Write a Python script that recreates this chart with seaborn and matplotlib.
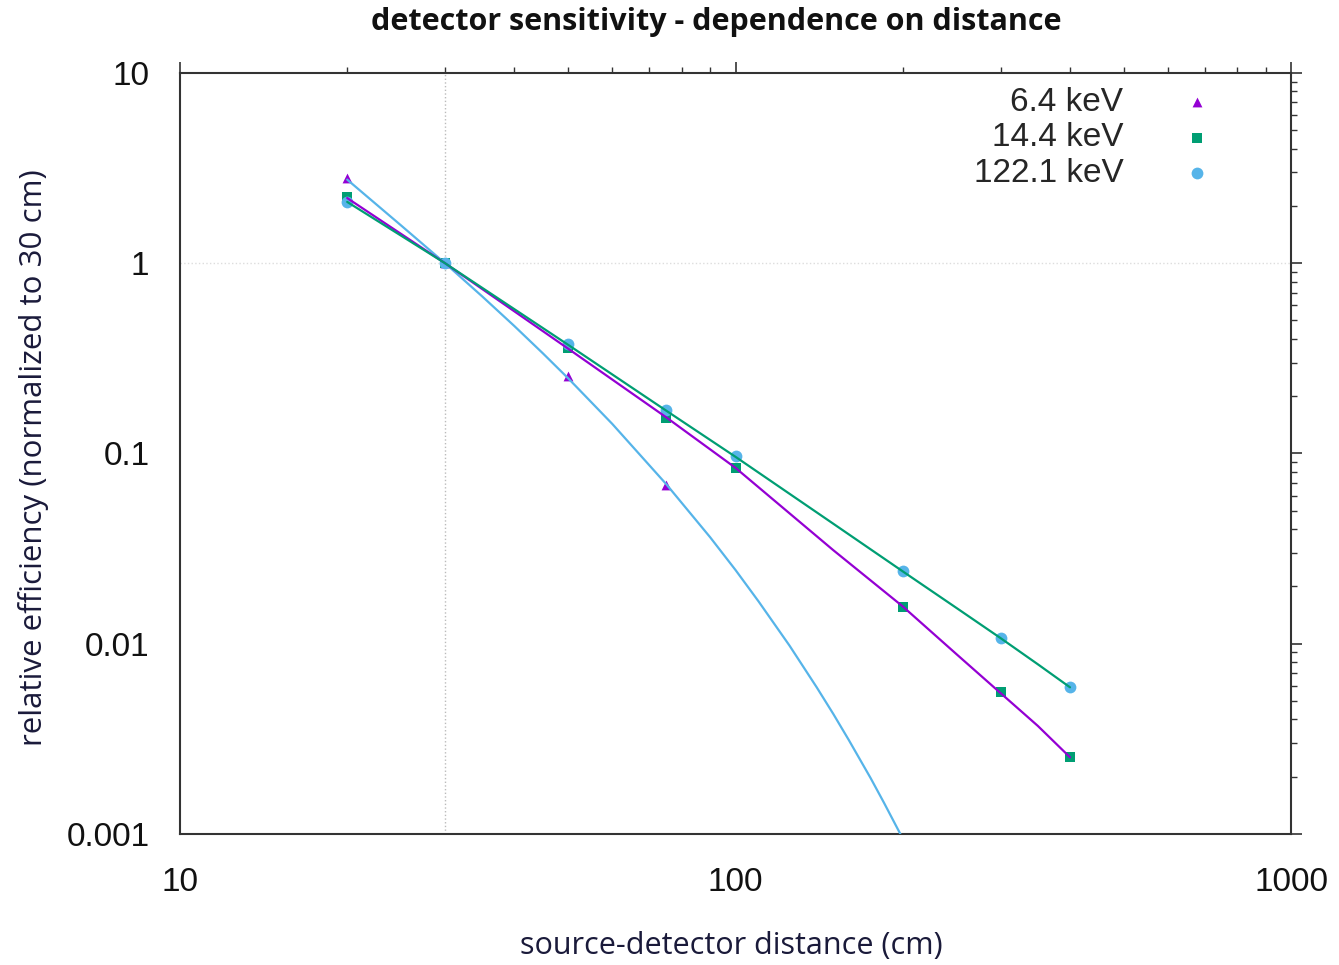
import numpy as np
import pandas as pd
import matplotlib
matplotlib.use('Agg')
import matplotlib.pyplot as plt
import seaborn as sns
from matplotlib.ticker import LogLocator, NullFormatter

# ======================
# data
# ======================
distance_6 = [20, 30, 50, 75]
eff_6 = [2.80, 1.0, 0.255, 0.068]

distance_14 = [20, 30, 50, 75, 100, 200, 300, 400]
eff_14 = [2.22, 1.0, 0.357, 0.153, 0.0837, 0.0155, 0.00556, 0.00253]

distance_122 = [20, 30, 50, 75, 100, 200, 300, 400]
eff_122 = [2.09, 1.0, 0.375, 0.169, 0.0968, 0.024, 0.0107, 0.0059]

# fitted curves
fit6_x = [20, 25, 30, 35, 40, 45, 50, 60, 75, 90, 100, 110, 125, 140, 150, 160, 175, 185, 198]
fit6_y = [2.75, 1.58, 1.0, 0.669, 0.467, 0.336, 0.248, 0.143, 0.0691, 0.0363, 0.0244,
          0.0167, 0.0098, 0.0059, 0.00427, 0.00311, 0.00197, 0.00146, 0.001]
fit14_x = [20, 30, 50, 75, 100, 150, 200, 250, 300, 350, 400]
fit14_y = [2.2, 1.0, 0.355, 0.155, 0.084, 0.031, 0.0157, 0.0088, 0.0055, 0.0037, 0.00253]
fit122_x = [20, 30, 50, 75, 100, 150, 200, 250, 300, 350, 400]
fit122_y = [2.1, 1.0, 0.372, 0.168, 0.096, 0.0427, 0.024, 0.0154, 0.0107, 0.0078, 0.0059]

labels = ['6.4 keV', '14.4 keV', '122.1 keV']
x_ticks = [10, 100, 1000]
x_ticklabels = ['10', '100', '1000']
y_ticks = [0.001, 0.01, 0.1, 1, 10]
y_ticklabels = ['0.001', '0.01', '0.1', '1', '10']
norm_distance = 30
norm_value = 1

# ======================
# style
# ======================
sns.set_theme(style='white')
plt.rcParams['font.family'] = ['Liberation Sans', 'DejaVu Sans']

purple = '#9400d3'
green = '#009e73'
skyblue = '#56b4e9'
label_font = ['Open Sans', 'DejaVu Sans']

fig = plt.figure(figsize=(13.39, 9.65), dpi=100)
ax = fig.add_axes([0.1344, 0.1358, 0.8298, 0.7886])

# points
points = [
    (distance_6, eff_6, '^', purple, 50),
    (distance_14, eff_14, 's', green, 62),
    (distance_122, eff_122, 'o', skyblue, 72),
]
for (xs, ys, mk, col, sz), lab in zip(points, labels):
    sns.scatterplot(x=xs, y=ys, marker=mk, color=col, s=sz, linewidth=0,
                    label=lab, ax=ax, zorder=3)

# fitted curves (colours as in the original plot)
curves = [(fit6_x, fit6_y, skyblue), (fit14_x, fit14_y, purple), (fit122_x, fit122_y, green)]
for cx, cy, col in curves:
    sns.lineplot(x=cx, y=cy, color=col, lw=1.6, sort=False, legend=False, ax=ax, zorder=4)

ax.axvline(norm_distance, color='#bbbbbb', lw=1, ls=':', zorder=1)
ax.axhline(norm_value, color='#dddddd', lw=1, ls=':', zorder=1)

ax.set_xscale('log')
ax.set_yscale('log')
ax.set_xlim(10, 1000)
ax.set_ylim(0.001, 10)
ax.set_xticks(x_ticks, labels=x_ticklabels)
ax.set_yticks(y_ticks, labels=y_ticklabels)
ax.xaxis.set_minor_locator(LogLocator(base=10, subs=np.arange(2, 10)))
ax.yaxis.set_minor_locator(LogLocator(base=10, subs=np.arange(2, 10)))
ax.xaxis.set_minor_formatter(NullFormatter())
ax.yaxis.set_minor_formatter(NullFormatter())

ax.tick_params(which='both', direction='out', top=True, right=True, color='#333333',
               labelcolor='#111111')
ax.tick_params(which='major', length=8, width=1.2, labelsize=24)
ax.tick_params(which='minor', length=4, width=1.0)
ax.tick_params(axis='x', which='major', pad=16)
ax.tick_params(axis='y', which='major', pad=14)
for sp in ax.spines.values():
    sp.set_color('#333333')
    sp.set_linewidth(1.5)

ax.set_xlabel('source-detector distance (cm)', fontsize=22, family=label_font, color='#1a1a3a')
ax.xaxis.set_label_coords(0.496, -0.147)
ax.xaxis.label.set_va('center')
ax.set_ylabel('relative efficiency (normalized to 30 cm)', fontsize=22.5, family=label_font,
              color='#1a1a3a')
ax.yaxis.set_label_coords(-0.132, 0.495)
ax.yaxis.label.set_va('center')
fig.text(0.535, 0.977, 'detector sensitivity - dependence on distance', ha='center', va='center',
         fontsize=22, fontweight='bold', family=label_font, color='#111111')

leg = ax.legend(loc='upper right', bbox_to_anchor=(0.945, 0.982), markerfirst=False,
                frameon=False, fontsize=24, borderaxespad=0, borderpad=0,
                handletextpad=1.2, labelspacing=0.14, handlelength=2.0)

fig.savefig('out.png', dpi=100)
